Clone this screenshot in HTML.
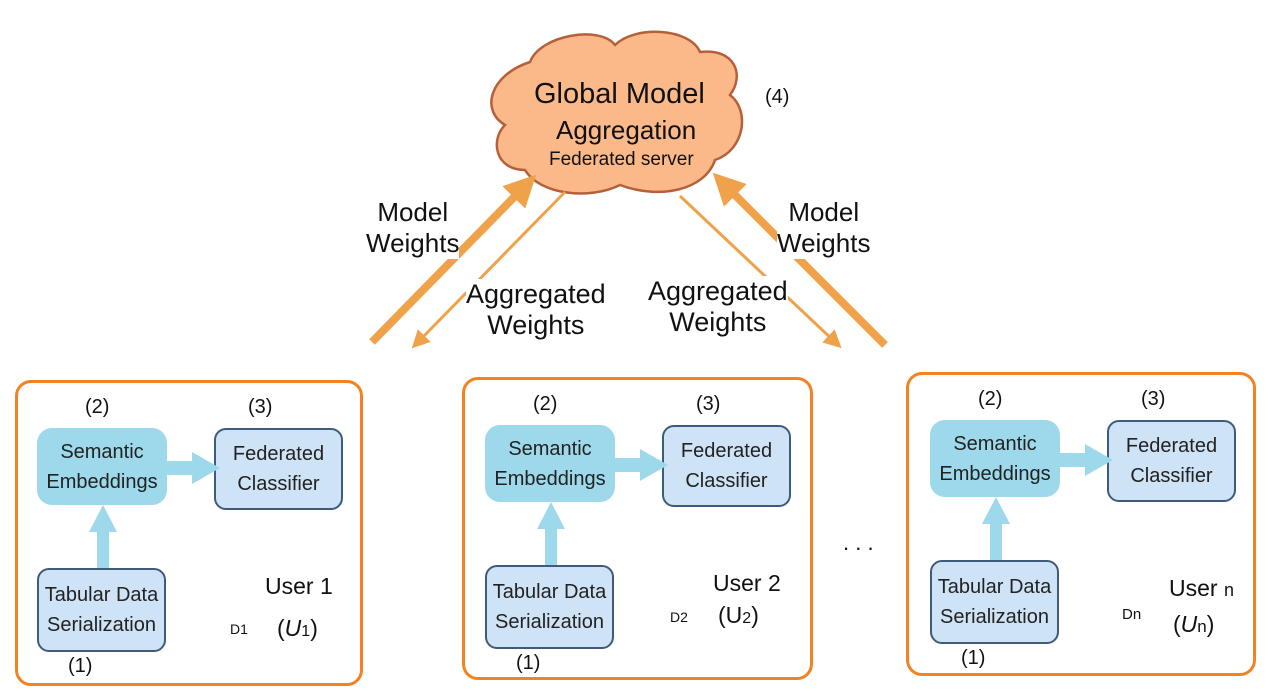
<!DOCTYPE html>
<html><head><style>
body{margin:0;width:1272px;height:693px;background:#fff;position:relative;overflow:hidden;font-family:"Liberation Sans",sans-serif}
.t{position:absolute;white-space:nowrap;color:#111}
.p{position:absolute;border:3px solid #f58220;border-radius:16px;box-sizing:border-box}
.b{position:absolute;box-sizing:border-box;display:flex;align-items:center;justify-content:center;text-align:center;font-size:20px;line-height:30px;color:#222}
.se{background:#9dd9ea;border-radius:15px}
.fc{background:#cfe3f7;border:2px solid #3f5a7a;border-radius:12px}
</style></head><body>
<svg width="1272" height="693" style="position:absolute;left:0;top:0">
<defs><marker id="h" markerWidth="4" markerHeight="4" refX="2" refY="2" orient="auto"><path d="M0,0L4,2L0,4z" fill="#efa24a"/></marker>
<marker id="h2" markerWidth="6" markerHeight="6" refX="3" refY="3" orient="auto"><path d="M0,0L6,3L0,6z" fill="#efa24a"/></marker></defs>
<path d="M530,62 C540,35 600,25 615,45 C635,25 690,28 700,52 C735,48 745,75 730,95 C750,110 745,150 715,160 C705,190 660,200 620,185 C590,200 540,195 525,170 C495,170 490,140 505,125 C480,110 490,75 530,62Z" fill="#fbb98a" stroke="#b5603a" stroke-width="2.5"/>
<line x1="372" y1="342" x2="525" y2="186" stroke="#efa24a" stroke-width="8" marker-end="url(#h)"/>
<line x1="565" y1="192" x2="418" y2="342" stroke="#efa24a" stroke-width="3" marker-end="url(#h2)"/>
<line x1="680" y1="196" x2="835" y2="342" stroke="#efa24a" stroke-width="3" marker-end="url(#h2)"/>
<line x1="885" y1="345" x2="724" y2="184" stroke="#efa24a" stroke-width="8" marker-end="url(#h)"/>
</svg>
<div class="t" style="left:534px;top:78px;font-size:29px">Global Model</div>
<div class="t" style="left:556px;top:115px;font-size:26px">Aggregation</div>
<div class="t" style="left:549px;top:149px;font-size:19px">Federated server</div>
<div class="t" style="left:765px;top:86px;font-size:20px">(4)</div>
<div class="t" style="left:366px;top:197px;font-size:26px;line-height:31px;text-align:center;background:#fff">Model<br>Weights</div>
<div class="t" style="left:466px;top:279px;font-size:27px;line-height:31px;text-align:center;background:#fff">Aggregated<br>Weights</div>
<div class="t" style="left:648px;top:276px;font-size:27px;line-height:31px;text-align:center;background:#fff">Aggregated<br>Weights</div>
<div class="t" style="left:777px;top:197px;font-size:26px;line-height:31px;text-align:center;background:#fff">Model<br>Weights</div>
<div class="t" style="left:843px;top:530px;font-size:22px">. . .</div>

<div class="p" style="left:15px;top:380px;width:348px;height:306px"></div>
<div class="p" style="left:462px;top:377px;width:351px;height:303px"></div>
<div class="p" style="left:906px;top:372px;width:350px;height:304px"></div>

<div style="position:absolute;left:0;top:0">
<div class="t" style="left:85px;top:396px;font-size:20px">(2)</div>
<div class="t" style="left:248px;top:396px;font-size:20px">(3)</div>
<div class="b se" style="left:37px;top:428px;width:130px;height:77px">Semantic<br>Embeddings</div>
<div class="b fc" style="left:214px;top:428px;width:129px;height:82px">Federated<br>Classifier</div>
<div class="b fc" style="left:37px;top:568px;width:129px;height:84px">Tabular Data<br>Serialization</div>
<svg style="position:absolute;left:0;top:0" width="400" height="693"><path d="M165,461H192V452L220,468L192,484V475H165Z" fill="#9dd9ea"/><path d="M97,568V532H89L103,505L117,532H109V568Z" fill="#9dd9ea"/></svg>
<div class="t" style="left:68px;top:655px;font-size:20px">(1)</div>
<div class="t" style="left:265px;top:573px;font-size:23px">User 1</div>
<div class="t" style="left:230px;top:621px;font-size:14px">D1</div>
<div class="t" style="left:277px;top:615px;font-size:23px">(<i>U</i><span style="font-size:16px">1</span>)</div>
</div>

<div style="position:absolute;left:448px;top:-3px">
<div class="t" style="left:85px;top:396px;font-size:20px">(2)</div>
<div class="t" style="left:248px;top:396px;font-size:20px">(3)</div>
<div class="b se" style="left:37px;top:428px;width:130px;height:77px">Semantic<br>Embeddings</div>
<div class="b fc" style="left:214px;top:428px;width:129px;height:82px">Federated<br>Classifier</div>
<div class="b fc" style="left:37px;top:568px;width:129px;height:84px">Tabular Data<br>Serialization</div>
<svg style="position:absolute;left:0;top:0" width="400" height="693"><path d="M165,461H192V452L220,468L192,484V475H165Z" fill="#9dd9ea"/><path d="M97,568V532H89L103,505L117,532H109V568Z" fill="#9dd9ea"/></svg>
<div class="t" style="left:68px;top:655px;font-size:20px">(1)</div>
<div class="t" style="left:265px;top:573px;font-size:23px">User 2</div>
<div class="t" style="left:222px;top:612px;font-size:14px">D2</div>
<div class="t" style="left:270px;top:605px;font-size:23px">(U<span style="font-size:16px">2</span>)</div>
</div>

<div style="position:absolute;left:893px;top:-8px">
<div class="t" style="left:85px;top:396px;font-size:20px">(2)</div>
<div class="t" style="left:248px;top:396px;font-size:20px">(3)</div>
<div class="b se" style="left:37px;top:428px;width:130px;height:77px">Semantic<br>Embeddings</div>
<div class="b fc" style="left:214px;top:428px;width:129px;height:82px">Federated<br>Classifier</div>
<div class="b fc" style="left:37px;top:568px;width:129px;height:84px">Tabular Data<br>Serialization</div>
<svg style="position:absolute;left:0;top:0" width="400" height="693"><path d="M165,461H192V452L220,468L192,484V475H165Z" fill="#9dd9ea"/><path d="M97,568V532H89L103,505L117,532H109V568Z" fill="#9dd9ea"/></svg>
<div class="t" style="left:68px;top:655px;font-size:20px">(1)</div>
<div class="t" style="left:276px;top:583px;font-size:23px">User <span style="font-size:18px">n</span></div>
<div class="t" style="left:229px;top:614px;font-size:15px">Dn</div>
<div class="t" style="left:280px;top:619px;font-size:23px">(<i>U</i><span style="font-size:17px">n</span>)</div>
</div>
</body></html>
